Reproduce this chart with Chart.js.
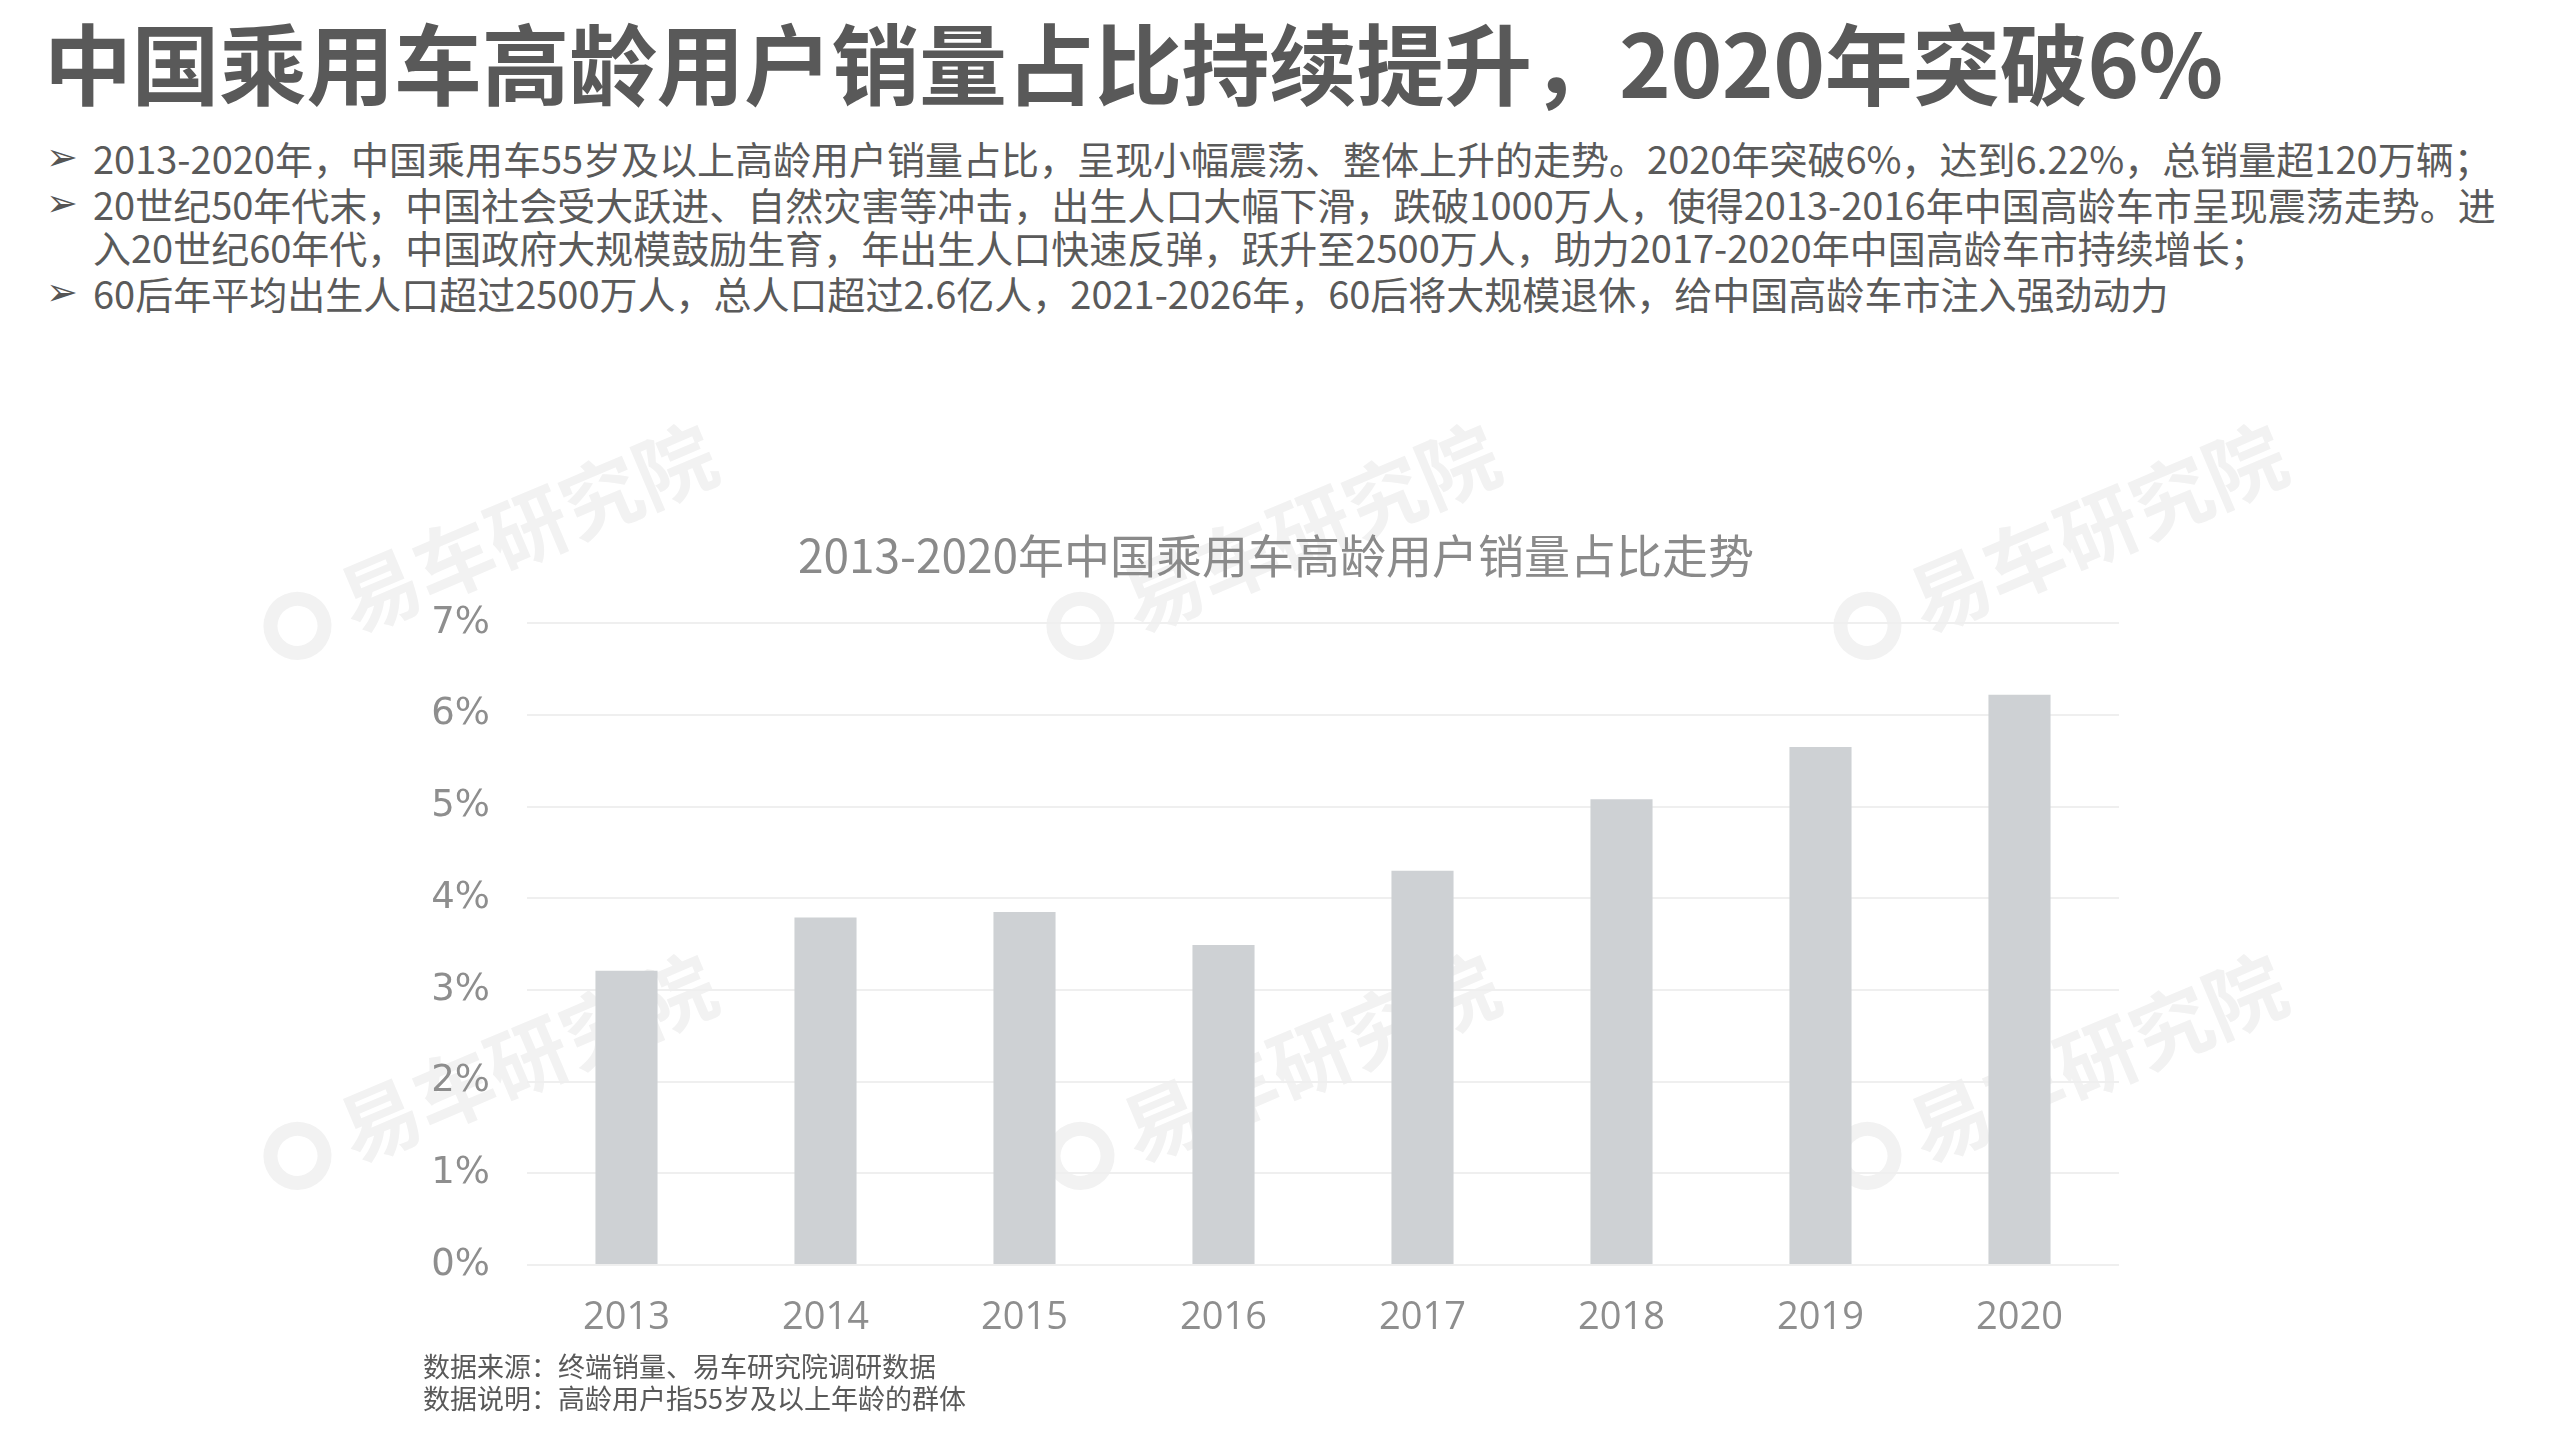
<!DOCTYPE html>
<html>
<head>
<meta charset="utf-8">
<script src="https://cdn.jsdelivr.net/npm/chart.js@4.4.0/dist/chart.umd.min.js"></script>
<style>
    html, body { margin: 0; padding: 0; background: #fff; }
    body { width: 2559px; height: 1439px; position: relative; overflow: hidden;
        font-family: "Noto Sans CJK SC", "Noto Sans", sans-serif; color: #5a5a5a; }
    .title { position: absolute; left: 44px; top: 5px; font-size: 88px; font-weight: 700;
        line-height: 110px; color: #595959; white-space: nowrap; letter-spacing: -0.5px; }
    .bullets { position: absolute; left: 46px; top: 136px; font-size: 38px; line-height: 43px; }
    .bullets div { position: relative; padding-left: 47px; white-space: nowrap; }
    .bullets div::before { content: "\27A2"; position: absolute; left: 0; top: 0;
        font-family: "DejaVu Sans"; font-size: 38px; color: #555; }
    .bullets div + div { margin-top: 3px; }
    .wm { position: absolute; font-size: 80px; font-weight: 700; color: #f2f2f2; line-height: 100px;
        white-space: nowrap; transform: rotate(-23deg); transform-origin: center; }
    .wm span { display: inline-block; width: 40px; height: 40px; border: 14px solid #f2f2f2;
        border-radius: 50%; margin-right: 16px; vertical-align: -4px; }
    #wrap { position: absolute; left: 0; top: 500px; width: 2200px; height: 865px; }
    .note { position: absolute; left: 423px; top: 1350px; font-size: 27px; line-height: 32px; color: #595959; }
</style>
</head>
<body>
<div class="wm" style="left:245px;top:490px"><span></span>易车研究院</div>
<div class="wm" style="left:1028px;top:490px"><span></span>易车研究院</div>
<div class="wm" style="left:1815px;top:490px"><span></span>易车研究院</div>
<div class="wm" style="left:245px;top:1020px"><span></span>易车研究院</div>
<div class="wm" style="left:1028px;top:1020px"><span></span>易车研究院</div>
<div class="wm" style="left:1815px;top:1020px"><span></span>易车研究院</div>

<div class="title">中国乘用车高龄用户销量占比持续提升，2020年突破6%</div>
<div class="bullets">
    <div>2013-2020年，中国乘用车55岁及以上高龄用户销量占比，呈现小幅震荡、整体上升的走势。2020年突破6%，达到6.22%，总销量超120万辆；</div>
    <div>20世纪50年代末，中国社会受大跃进、自然灾害等冲击，出生人口大幅下滑，跌破1000万人，使得2013-2016年中国高龄车市呈现震荡走势。进<br>入20世纪60年代，中国政府大规模鼓励生育，年出生人口快速反弹，跃升至2500万人，助力2017-2020年中国高龄车市持续增长；</div>
    <div>60后年平均出生人口超过2500万人，总人口超过2.6亿人，2021-2026年，60后将大规模退休，给中国高龄车市注入强劲动力</div>
</div>

<div id="wrap"><canvas id="share-chart"></canvas></div>

<div class="note">数据来源：终端销量、易车研究院调研数据<br>数据说明：高龄用户指55岁及以上年龄的群体</div>

<script>
    var years = ['2013', '2014', '2015', '2016', '2017', '2018', '2019', '2020'];
    // 55岁及以上用户销量占比（%）
    var shareValues = [3.21, 3.79, 3.85, 3.49, 4.30, 5.08, 5.65, 6.22];
    var yTicks = [0, 1, 2, 3, 4, 5, 6, 7];

    var ctx = document.getElementById('share-chart').getContext('2d');
    var chart = new Chart(ctx, {
        type: 'bar', data: {
            labels: years, datasets: [{
                label: '高龄用户销量占比',
                data: shareValues,
                backgroundColor: '#ced1d4',
                categoryPercentage: 1,
                barPercentage: 0.312,
            }]
        }, options: {
            responsive: true, maintainAspectRatio: false, animation: false,
            layout: {
                // left padding shifts the title centre over the plot
                padding: {left: 433, right: 81, top: 0, bottom: 0}
            },
            plugins: {
                legend: {
                    display: false
                },
                tooltip: {
                    enabled: false
                },
                title: {
                    display: true,
                    text: '2013-2020年中国乘用车高龄用户销量占比走势',
                    color: '#8a8a8a',
                    font: {family: '"Noto Sans CJK SC"', size: 46, weight: 'normal'},
                    padding: {top: 28, bottom: 40}
                }
            }, scales: {
                x: {
                    grid: {
                        display: false
                    },
                    border: {display: false},
                    ticks: {
                        color: '#8e8e8e',
                        padding: 22,
                        font: {family: '"Open Sans"', size: 38}
                    },
                    afterFit: function (scale) {
                        scale.height = 100;
                    }
                }, y: {
                    min: 0, max: 7,
                    afterBuildTicks: function (scale) {
                        scale.ticks = yTicks.map(function (v) { return {value: v}; });
                    },
                    grid: {
                        color: '#efefef',
                        lineWidth: 2,
                        drawTicks: false
                    },
                    border: {display: false},
                    ticks: {
                        color: '#8e8e8e',
                        padding: 37,
                        font: {family: '"DejaVu Sans"', size: 37},
                        callback: function (v) { return v + '%'; }
                    },
                    afterFit: function (scale) {
                        scale.width = 94;
                    }
                },
            }
        },
    });
</script>
</body>
</html>
